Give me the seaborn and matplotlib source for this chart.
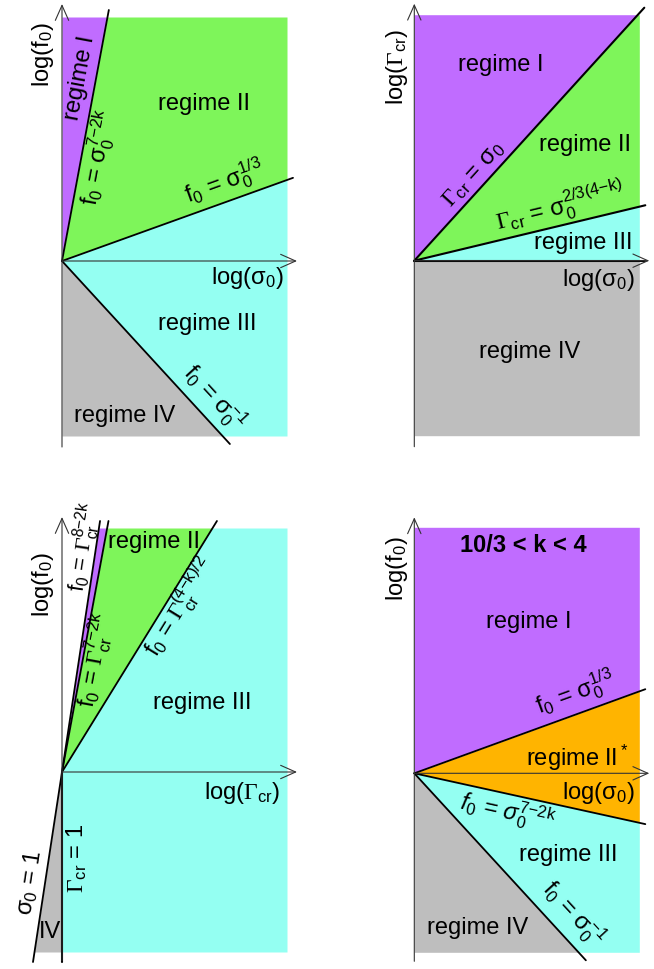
import numpy as np
import matplotlib
matplotlib.use("Agg")
import matplotlib.pyplot as plt
import seaborn as sns

# Schematic regime diagrams. Boundaries are straight lines through the origin
# in log-log space, so each one is stored as its slope (as drawn in the figure).
tl_slopes = [5.36, 0.36, -1.09]      # f0 = s0^(7-2k), f0 = s0^(1/3), f0 = s0^-1
tr_slopes = [1.10, 0.24, 0.0]        # Gcr = s0, Gcr = s0^(2/3(4-k)), Gcr = 1
bl_slopes = [6.6, 5.4, 1.62]         # f0 = G^(8-2k), f0 = G^(7-2k), f0 = G^((4-k)/2)
bl_sigma_slope = 6.55                # sigma0 = 1 (left of the f0 axis)
br_slopes = [0.364, -0.22, -1.09]    # f0 = s0^(1/3), f0 = s0^(7-2k), f0 = s0^-1

regimes = ["regime I", "regime II", "regime III", "regime IV"]
k_range = "10/3 < k < 4"

sns.set_theme(style="white")
plt.rcParams["font.family"] = ["Liberation Sans", "DejaVu Sans"]
plt.rcParams["text.color"] = "black"
plt.rcParams["mathtext.fontset"] = "custom"
plt.rcParams["mathtext.rm"] = "Liberation Sans"
plt.rcParams["mathtext.it"] = "Liberation Sans:italic"
plt.rcParams["mathtext.bf"] = "Liberation Sans:bold"
plt.rcParams["mathtext.sf"] = "Liberation Serif"

PURPLE = "#c06cff"
GREEN = "#7ef55a"
CYAN = "#94fff2"
GREY = "#bebebe"
ORANGE = "#ffb400"

G = r"$\mathsf{Γ}$"          # serif capital gamma, as in the original
GCR = r"$\mathsf{Γ}_{\mathrm{cr}}$"

FW, FH = 654, 970
W = 225  # width of the coloured box in pixels
fig = plt.figure(figsize=(FW / 100, FH / 100), dpi=100)


def panel():
    # one transparent axes over the whole figure, 1 data unit = 1 pixel
    ax = fig.add_axes([0, 0, 1, 1])
    ax.set_axis_off()
    ax.patch.set_visible(False)
    return ax


def finish(ax, ox, oy):
    ax.set_xlim(-ox, FW - ox)
    ax.set_ylim(oy - FH, oy)


def wedge(ax, lo, hi, color, top, bottom):
    x = np.linspace(0, W, 4000)
    ylo = np.full_like(x, bottom) if lo is None else np.clip(lo * x, bottom, top)
    yhi = np.full_like(x, top) if hi is None else np.clip(hi * x, bottom, top)
    ax.fill_between(x, ylo, yhi, color=color, lw=0)


def ray(ax, s, top, bottom, lw=1.3):
    xe = W + 6
    if s > 0:
        xe = min(xe, (top + 7) / s)
    if s < 0:
        xe = min(xe, (bottom - 8) / s)
    sns.lineplot(x=[0, xe], y=[0, s * xe], color="black", lw=lw, ax=ax)


def arrows(ax, ylow, yhigh, xhigh):
    kw = dict(arrowstyle="->,head_length=0.9,head_width=0.4", color="#333333",
              lw=0.8, shrinkA=0, shrinkB=0)
    ax.annotate("", xy=(0, yhigh), xytext=(0, ylow), arrowprops=kw)
    ax.annotate("", xy=(xhigh, 0), xytext=(0, 0), arrowprops=kw)


def label(ax, x, y, s, rot=0.0, size=17, **kw):
    ax.text(x, y, s, rotation=rot, ha="center", va="center", color="black",
            rotation_mode="anchor", fontsize=size, **kw)


def angle(s):
    return np.degrees(np.arctan(s))


def sup(t):
    return r"$^{\text{" + t + "}}$"


def subsup(t):
    return r"$_{0}^{\text{" + t + "}}$"


# ---------------- top left: f0 vs sigma0 ----------------
ox, oy = 62, 262
top, bottom = 244, -175
ax = panel()
s1, s2, s3 = tl_slopes
wedge(ax, s1, None, PURPLE, top, bottom)
wedge(ax, s2, s1, GREEN, top, bottom)
wedge(ax, s3, s2, CYAN, top, bottom)
wedge(ax, None, s3, GREY, top, bottom)
for s in tl_slopes:
    ray(ax, s, top, bottom)
arrows(ax, -186, 257, 235)
label(ax, -19, 207, "log(f$_0$)", 90)
label(ax, 18, 184, regimes[0], angle(s1))
label(ax, 36, 104, "f$_0$ = σ" + subsup("7−2k"), angle(s1))
label(ax, 142, 158, regimes[1])
label(ax, 162, 80, "f$_0$ = σ" + subsup("1/3"), angle(s2))
label(ax, 185, -16, "log(σ$_0$)")
label(ax, 145, -62, regimes[2])
label(ax, 152, -135, "f$_0$ = σ" + subsup("−1"), angle(s3))
label(ax, 63, -154, regimes[3])
finish(ax, ox, oy)

# ---------------- top right: Gamma_cr vs sigma0 ----------------
ox, oy = 414.3, 261.7
top, bottom = 246, -175
ax = panel()
s1, s2, s3 = tr_slopes
wedge(ax, s1, None, PURPLE, top, bottom)
wedge(ax, s2, s1, GREEN, top, bottom)
wedge(ax, s3, s2, CYAN, top, bottom)
wedge(ax, None, s3, GREY, top, bottom)
for s in tr_slopes:
    ray(ax, s, top, bottom, lw=1.5)
arrows(ax, -186, 257, 235)
label(ax, -17, 195, "log(" + GCR + ")", 90)
label(ax, 86, 197, regimes[0])
label(ax, 59, 87, GCR + " = σ$_0$", angle(s1))
label(ax, 171, 117, regimes[1])
label(ax, 146, 55, GCR + " = σ" + subsup("2/3(4−k)"), angle(s2))
label(ax, 169, 19, regimes[2])
label(ax, 184, -18, "log(σ$_0$)")
label(ax, 115, -90, regimes[3])
finish(ax, ox, oy)

# ---------------- bottom left: f0 vs Gamma_cr ----------------
ox, oy = 62, 773
top, bottom = 244, -180
ax = panel()
s1, s2, s3 = bl_slopes
wedge(ax, s2, s1, PURPLE, top, bottom)
wedge(ax, s3, s2, GREEN, top, bottom)
wedge(ax, None, s3, CYAN, top, bottom)
xg = np.linspace(bottom / bl_sigma_slope, 0, 500)
ax.fill_between(xg, bottom, np.clip(bl_sigma_slope * xg, bottom, 0), color=GREY, lw=0)
for s in bl_slopes:
    ray(ax, s, top, bottom)
xs = (bottom - 10) / bl_sigma_slope
sns.lineplot(x=[xs, 0], y=[bl_sigma_slope * xs, 0], color="black", lw=1.3, ax=ax)
ax.plot([0, 0], [0, bottom - 10], color="black", lw=1.5)
arrows(ax, -189, 255, 235)
gam = r"$\mathsf{Γ}_{\mathrm{cr}}^{\text{%s}}$"
label(ax, -19, 188, "log(f$_0$)", 90)
label(ax, 22, 226, "f$_0$ = " + gam % "8−2k", angle(s1), size=16)
label(ax, 92, 231, regimes[1])
label(ax, 33, 113, "f$_0$ = " + gam % "7−2k", angle(s2))
label(ax, 118, 166, "f$_0$ = " + gam % "(4−k)/2", angle(s3))
label(ax, 140, 70, regimes[2])
label(ax, 180, -20, "log(" + GCR + ")")
label(ax, -32, -110, "σ$_0$ = 1", angle(bl_sigma_slope))
label(ax, 15, -85, GCR + " = 1", 90)
label(ax, -12, -159, "IV")
finish(ax, ox, oy)

# ---------------- bottom right: 10/3 < k < 4 ----------------
ox, oy = 414.3, 774.3
top, bottom = 246, -179
ax = panel()
s1, s2, s3 = br_slopes
wedge(ax, s1, None, PURPLE, top, bottom)
wedge(ax, s2, s1, ORANGE, top, bottom)
wedge(ax, s3, s2, CYAN, top, bottom)
wedge(ax, None, s3, GREY, top, bottom)
for s in br_slopes:
    ray(ax, s, top, bottom)
arrows(ax, -188, 256, 235)
label(ax, -17, 206, "log(f$_0$)", 90)
label(ax, 109, 229, k_range, fontweight="bold")
label(ax, 114, 152, regimes[0])
label(ax, 161, 81, "f$_0$ = σ" + subsup("1/3"), angle(s1))
label(ax, 163, 16, regimes[1] + "$^*$")
label(ax, 184, -19, "log(σ$_0$)")
label(ax, 93, -38, "f$_0$ = σ" + subsup("7−2k"), angle(s2), style="italic")
label(ax, 154, -81, regimes[2])
label(ax, 159, -139, "f$_0$ = σ" + subsup("−1"), angle(s3))
label(ax, 63, -154, regimes[3])
finish(ax, ox, oy)

fig.savefig("out.png", dpi=100)
